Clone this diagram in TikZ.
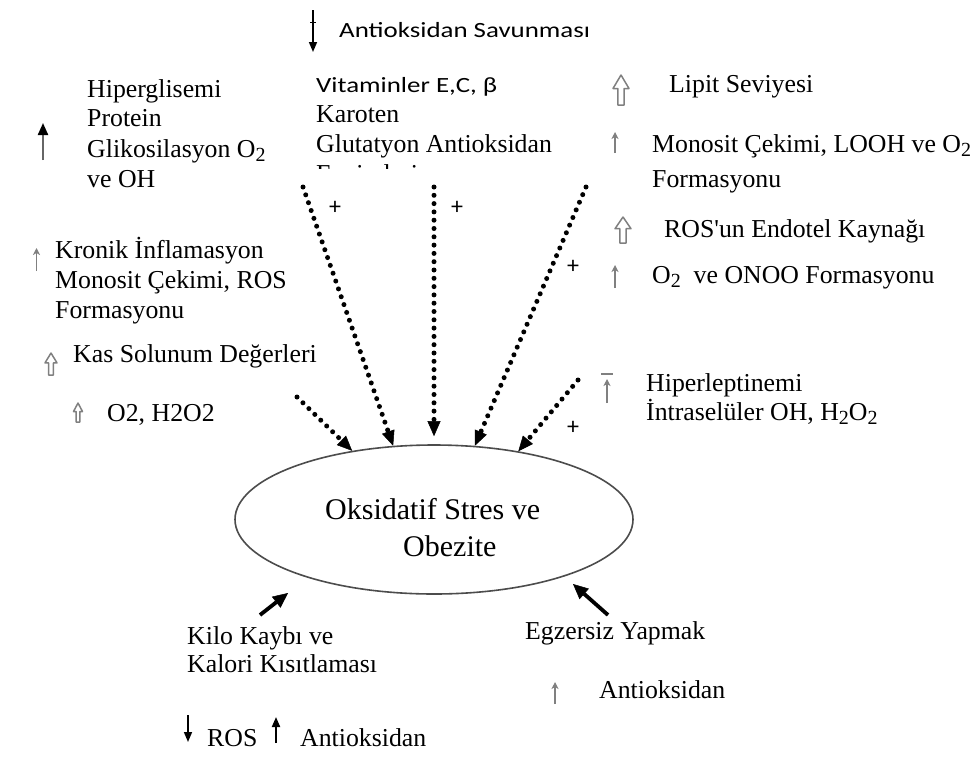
\documentclass[tikz,border=0pt]{standalone}
\usepackage{fontspec}
\setmainfont{Liberation Serif}
\newfontfamily\sansw[FakeStretch=1.24]{Carlito}
\newfontfamily\plusfont{Carlito}
\usetikzlibrary{shapes.geometric,arrows.meta}
\newcommand\srf{\fontsize{25.8}{30}\selectfont}
\newcommand\sns{\sansw\fontsize{21.7}{26}\selectfont}
\newcommand\ellfont{\fontsize{30}{38}\selectfont}
\newcommand\stwo{\raisebox{-0.18em}{\fontsize{20}{20}\selectfont 2}}
\definecolor{arrgray}{HTML}{808080}
\tikzset{
  txt/.style={anchor=base west, inner sep=0pt, font=\srf},
  stxt/.style={anchor=base west, inner sep=0pt, font=\sns},
  etxt/.style={anchor=base west, inner sep=0pt, font=\ellfont},
  plus/.style={inner sep=0pt, font=\plusfont\fontsize{24}{24}\selectfont},
  dotarrow/.style={line width=5pt, line cap=round, dash pattern=on 0pt off 8.3pt,
    -{Triangle[length=15pt,width=13pt,line width=0.5pt]}},
  solidarrow/.style={line width=3.8pt, -{Triangle[length=15pt,width=14pt,line width=0.5pt]}},
  thinup/.style={arrgray, line width=1.3pt, -{Stealth[length=7pt,width=7pt,inset=2pt]}},
  blkarrow/.style={line width=1.6pt, -{Triangle[length=10pt,width=8pt]}},
  pics/hup/.style 2 args={code={
    \draw[arrgray, line width=1.5pt, line join=round, fill=white]
      (-0.2*#1,0) -- (-0.2*#1,-0.55*#2) -- (-0.5*#1,-0.55*#2) -- (0,-#2)
      -- (0.5*#1,-0.55*#2) -- (0.2*#1,-0.55*#2) -- (0.2*#1,0) -- cycle;}}
}
\begin{document}
\begin{tikzpicture}[x=1pt,y=-1pt]
\useasboundingbox (0,0) rectangle (974,769);
\fill[white] (0,0) rectangle (974,769);

% top: antioxidant defence
\draw[blkarrow] (313,10) -- (313,52);
\draw[line width=1pt] (310,22) -- (316,22);
\node[stxt] (sav) at (339,37) {Antioksidan Savunması};

% hyperglycemia
\draw[line width=2.2pt, black!60, -{Triangle[length=12pt,width=10pt,color=black]}] (43,160) -- (43,123);
\node[txt] (hyp1) at (87,97) {Hiperglisemi};
\node[txt] (hyp2) at (87,126) {Protein};
\node[txt] (hyp3) at (87,157) {Glikosilasyon O\stwo};
\node[txt] (hyp4) at (87,187) {ve OH};

% vitamins
\node[stxt] (vit1) at (316,92) {Vitaminler E,C, β};
\node[txt] (vit2) at (316,122) {Karoten};
\node[txt] (vit3) at (316,152) {Glutatyon Antioksidan};
\begin{scope}
  \clip (300,150) rectangle (600,168);
  \node[txt] (vit4) at (316,182) {Enzimleri};
\end{scope}

% right block
\pic at (621,105) {hup={16}{30}};
\node[txt] (lip) at (669,92) {Lipit Seviyesi};
\draw[thinup] (615,153) -- (615,132);
\node[txt] (mon1) at (652,152) {Monosit Çekimi, LOOH ve O\stwo};
\node[txt] (mon2) at (652,187) {Formasyonu};
\pic at (623,243) {hup={16}{26}};
\node[txt] (ros) at (664,237) {ROS\textquotesingle un Endotel Kaynağı};
\draw[thinup] (615,288) -- (615,265);
\node[txt] (ono) at (652,283) {O\stwo\ \ ve ONOO Formasyonu};

% left middle block
\draw[thinup] (36.5,271) -- (36.5,248);
\node[txt] (kr1) at (55,258) {Kronik İnflamasyon};
\node[txt] (kr2) at (55,288) {Monosit Çekimi, ROS};
\node[txt] (kr3) at (55,318) {Formasyonu};
\pic at (51,375) {hup={12}{22}};
\node[txt] (kas) at (73,362) {Kas Solunum Değerleri};
\pic at (78,422) {hup={9}{19}};
\node[txt] (oh) at (107,421) {O2, H2O2};

% hyperleptinemia
\draw[arrgray, line width=1.3pt] (601,374) -- (613,374);
\draw[thinup] (607,403) -- (607,379);
\node[txt] (hl1) at (646,391) {Hiperleptinemi};
\node[txt] (hl2) at (646,420) {İntraselüler OH, H\stwo O\stwo};

% central ellipse
\node[ellipse, draw=black!70, line width=1.6pt, minimum width=398pt, minimum height=149pt, inner sep=0pt] (ell) at (434,519.5) {};
\node[etxt] (ox1) at (325,519) {Oksidatif Stres ve};
\node[etxt] (ox2) at (403,556) {Obezite};

% plus signs
\node[plus] (p1) at (335,208) {+};
\node[plus] (p2) at (457,208) {+};
\node[plus] (p3) at (573,267) {+};
\node[plus] (p4) at (573,428) {+};

% dotted arrows
\coordinate (d1) at (303,187);
\coordinate (d2) at (434,187);
\coordinate (d3) at (586,187);
\coordinate (d4) at (578,380);
\coordinate (d5) at (297,397);
\draw[dotarrow] (d1) -- (ell.119.4);
\draw[dotarrow, shorten >=8pt] (d2) -- (ell.90);
\draw[dotarrow] (d3) -- (ell.61.9);
\draw[dotarrow] (d4) -- (ell.39.2);
\draw[dotarrow] (d5) -- (ell.140.4);

% bottom arrows
\coordinate (k0) at (260,615);
\coordinate (k1) at (288,593);
\coordinate (e0) at (608,615);
\coordinate (e1) at (573,584);
\draw[solidarrow] (k0) -- (k1);
\draw[solidarrow] (e0) -- (e1);

\node[txt] (kk1) at (187,644) {Kilo Kaybı ve};
\node[txt] (kk2) at (187,672) {Kalori Kısıtlaması};
\draw[blkarrow] (188,715) -- (188,742);
\node[txt] (ros2) at (207,746) {ROS};
\draw[line width=2pt, -{Triangle[length=10pt,width=8pt]}] (276,743) -- (276,717);
\node[txt] (ant1) at (300,746) {Antioksidan};

\node[txt] (egz) at (525,639) {Egzersiz Yapmak};
\draw[thinup] (555,704) -- (555,682);
\node[txt] (ant2) at (599,698) {Antioksidan};
\end{tikzpicture}
\end{document}
